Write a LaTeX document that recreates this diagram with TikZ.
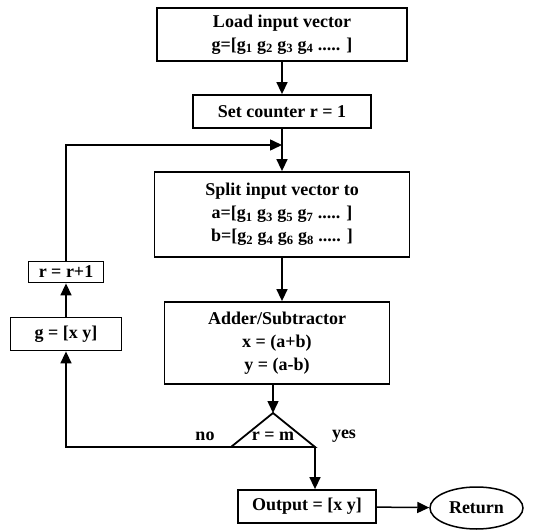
\documentclass[tikz,border=0pt]{standalone}
\usepackage{fontspec}
\setmainfont{Liberation Serif}
\usetikzlibrary{arrows.meta,shapes.geometric}
\newcommand\diagfont{\bfseries\fontsize{18}{23}\selectfont}
\begin{document}
\begin{tikzpicture}[x=1pt,y=-1pt,
  box/.style={draw, line width=1.8pt, inner sep=0pt, align=center, font=\diagfont},
  lbl/.style={inner sep=0pt, font=\diagfont},
  arr/.style={line width=1.5pt, -{Triangle[length=12pt,width=11pt]}},
  ln/.style={line width=1.5pt}]
\useasboundingbox (0,0) rectangle (544,532);
\node[box, minimum width=250, minimum height=53] (load) at (282,34.5)
  {Load input vector\\g=[g\textsubscript{1} g\textsubscript{2} g\textsubscript{3} g\textsubscript{4} ..... ]};
\node[box, minimum width=178, minimum height=33] (set) at (282,111.5) {Set counter r = 1};
\node[box, minimum width=255, minimum height=85] (split) at (282,214.5)
  {Split input vector to\\a=[g\textsubscript{1} g\textsubscript{3} g\textsubscript{5} g\textsubscript{7} ..... ]\\b=[g\textsubscript{2} g\textsubscript{4} g\textsubscript{6} g\textsubscript{8} ..... ]};
\node[box, minimum width=225, minimum height=82] (adder) at (277,343)
  {Adder/Subtractor\\x = (a+b)\\y = (a-b)};
\coordinate (tA) at (273,413);
\coordinate (tL) at (231,447);
\coordinate (tR) at (315,447);
\draw[line width=1.8pt, line join=miter] (tA) -- (tL) -- (tR) -- cycle;
\node[lbl] (cond) at (273,436) {r = m};
\node[lbl] (no) at (205,436) {no};
\node[lbl] (yes) at (344,436) {yes};
\node[box, minimum width=111, minimum height=33] (gbox) at (66,334) {g = [x y]};
\node[box, minimum width=75, minimum height=21] (rbox) at (66,272) {r = r+1};
\node[box, minimum width=138, minimum height=33] (out) at (307,506.5) {Output = [x y]};
\node[draw, ellipse, line width=1.5pt, minimum width=93, minimum height=42, inner sep=0pt, font=\diagfont] (ret) at (476.5,508) {Return};
\coordinate (j) at (282,145);
% connectors
\draw[arr] (load) -- (set);
\draw[arr] (set) -- (split);
\draw[arr] (rbox.north) -- (rbox.north |- j) -- (j);
\draw[arr] (split.south) -- (split.south |- adder.north);
\draw[arr] (adder.south -| tA) -- (tA);
\draw[arr] (tL) -| (gbox.south);
\draw[arr] (gbox) -- (rbox);
\draw[arr] (tR) -- (tR |- out.north);
\draw[arr] (out) -- (ret);
\end{tikzpicture}
\end{document}
